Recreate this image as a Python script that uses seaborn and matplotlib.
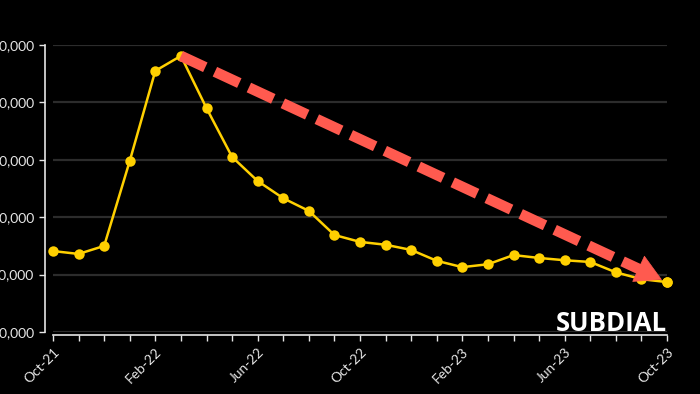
import matplotlib
matplotlib.use("Agg")
import matplotlib.pyplot as plt
import seaborn as sns
import pandas as pd
from matplotlib.ticker import FuncFormatter

# monthly index values
months = ["Oct-21", "Nov-21", "Dec-21", "Jan-22", "Feb-22", "Mar-22", "Apr-22",
          "May-22", "Jun-22", "Jul-22", "Aug-22", "Sep-22", "Oct-22", "Nov-22",
          "Dec-22", "Jan-23", "Feb-23", "Mar-23", "Apr-23", "May-23", "Jun-23",
          "Jul-23", "Aug-23", "Sep-23", "Oct-23"]
prices = [44100, 43600, 45000, 59800, 75500, 78100, 69000, 60500, 56300,
          53300, 51100, 46900, 45700, 45200, 44300, 42400, 41300, 41800,
          43400, 42900, 42500, 42200, 40400, 39200, 38700]
y_ticks = [30000, 40000, 50000, 60000, 70000, 80000]

df = pd.DataFrame({"month": range(len(months)), "price": prices})

sns.set_theme(style="dark")
plt.rcParams["font.family"] = ["Lato", "DejaVu Sans"]

fig = plt.figure(figsize=(7, 3.94), dpi=100, facecolor="black")
ax = fig.add_axes([53 / 700, 62 / 394, 614 / 700, 287 / 394])
ax.set_facecolor("black")

sns.lineplot(data=df, x="month", y="price", ax=ax, color="#FFD000", lw=1.8,
             marker="o", markersize=7.5, markeredgewidth=0, clip_on=False,
             zorder=2)

# trend arrow from the peak down to the latest value
peak = prices.index(max(prices))
last = len(prices) - 1


def on_trend(x):
    return prices[peak] + (prices[last] - prices[peak]) * (x - peak) / (last - peak)


line_end = last - 0.55
head_from = last - 1.1
tip = last - 0.2
ax.plot([peak, line_end], [prices[peak], on_trend(line_end)], color="#FF5A4F",
        lw=7.6, dashes=(2.55, 1.0), dash_capstyle="butt", clip_on=False,
        zorder=3)
ax.annotate("", xy=(tip, on_trend(tip)), xytext=(head_from, on_trend(head_from)),
            arrowprops=dict(arrowstyle="-|>,head_length=0.9,head_width=0.5",
                            mutation_scale=20, color="#FF5A4F", lw=0.5,
                            shrinkA=0, shrinkB=0),
            zorder=3, annotation_clip=False)
ax.plot(last, prices[last], "o", color="#FFD000", markersize=7.5,
        markeredgewidth=0, clip_on=False, zorder=4)

ax.set_xlim(0, last)
ax.set_ylim(y_ticks[0], y_ticks[-1])
ax.set_xticks(range(len(months)))
ax.set_xticklabels([m if i % 4 == 0 else "" for i, m in enumerate(months)])
ax.set_yticks(y_ticks)
ax.yaxis.set_major_formatter(FuncFormatter(lambda v, p: f"{v:,.0f}"))
ax.set_xlabel("")
ax.set_ylabel("")

ax.yaxis.grid(True, color="#2c2c2c", lw=1.6)
ax.xaxis.grid(False)
for s in ["top", "right"]:
    ax.spines[s].set_visible(False)
ax.spines["left"].set_position(("outward", 6))
ax.spines["bottom"].set_position(("outward", 2.5))
for s in ["left", "bottom"]:
    ax.spines[s].set_visible(True)
    ax.spines[s].set_color("#e6e6e6")
    ax.spines[s].set_linewidth(1.2)
ax.tick_params(colors="#e6e6e6", labelcolor="#e6e6e6", length=4.5, width=1,
               labelsize=10, pad=3, left=True, bottom=True)
for lab in ax.get_xticklabels():
    lab.set_rotation(45)
    lab.set_ha("right")
    lab.set_rotation_mode("anchor")

ax.text(1.0, 0.005, "SUBDIAL", transform=ax.transAxes, ha="right",
        va="baseline", fontsize=18.5, fontweight="bold", color="white",
        family="Open Sans")

fig.savefig("out.png", dpi=100, facecolor="black")
